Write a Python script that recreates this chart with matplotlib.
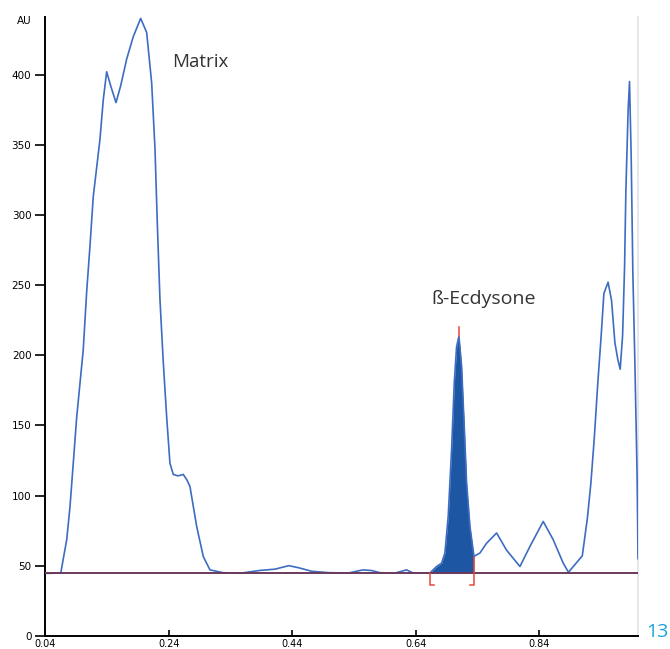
import matplotlib
matplotlib.use("Agg")
import matplotlib.pyplot as plt
import numpy as np

# densitogram trace: Rf position and absorbance (AU)
rf = [0.040, 0.065, 0.0747, 0.080, 0.0853, 0.0909, 0.0962, 0.1015, 0.107, 0.1124,
      0.1177, 0.1286, 0.1339, 0.1394, 0.1459, 0.1545, 0.1621, 0.1718, 0.1825,
      0.1945, 0.2042, 0.2123, 0.2177, 0.2214, 0.2257, 0.2311, 0.2366, 0.2419, 0.2473,
      0.2549, 0.2635, 0.2695, 0.2743, 0.2852, 0.2959, 0.3067, 0.3278, 0.3553, 0.3877,
      0.412, 0.4343, 0.4505, 0.4715, 0.499, 0.5314, 0.5545, 0.569, 0.5819, 0.6062,
      0.6253, 0.6355, 0.655, 0.663, 0.6738, 0.6819, 0.6873, 0.6926, 0.6981, 0.7024,
      0.7062, 0.7100, 0.7143, 0.7186, 0.7224, 0.7278, 0.7343, 0.744, 0.7548, 0.771,
      0.7872, 0.8088, 0.8250, 0.8465, 0.8627, 0.8789, 0.8874, 0.9098, 0.9181, 0.9237,
      0.9292, 0.9349, 0.9404, 0.9448, 0.9516, 0.9572, 0.9626, 0.9673, 0.9712, 0.9751,
      0.9783, 0.9804, 0.9840, 0.9863, 0.9890, 0.9917, 0.9950, 0.9985, 0.9995, 1.0]
au = [44.5, 44.7, 68.5, 92, 123, 156, 180, 204, 245, 278,
      313, 354, 382, 402, 392, 380, 392, 411, 427,
      440, 430, 394, 347, 294.5, 240, 195, 156, 123, 115,
      114, 115, 111, 106.5, 78, 56.5, 47, 45, 44.6, 46.6,
      47.5, 50, 48.5, 46, 45, 44.8, 47, 46.5, 45, 44.7,
      47, 44.8, 44.8, 44.8, 49.4, 51.8, 59, 85, 132.7, 180,
      206, 213.5, 192, 149, 109, 78, 56.6, 59, 66, 73.3,
      61, 49.4, 63.7, 81.5, 68.5, 51.8, 45.3, 57, 84, 108.7,
      140.7, 180, 214, 244, 252, 239, 209, 197, 190, 214,
      263, 317, 374, 395, 342, 258.6, 194.7, 116, 79, 55]

baseline = 44.5
peak_start, peak_end = 0.663, 0.7343   # integration window of the beta-ecdysone peak
peak_rf, peak_top = 0.7100, 220

x_ticks = [0.04, 0.24, 0.44, 0.64, 0.84]
x_labels = ["0.04", "0.24", "0.44", "0.64", "0.84"]
y_ticks = [0, 50, 100, 150, 200, 250, 300, 350, 400]

line_col = "#3d6cc2"
fill_col = "#1d56a3"
red = "#e8473a"

fig = plt.figure(figsize=(6.70, 6.49), dpi=100)
ax = fig.add_axes([0.0676, 0.0203, 0.8846, 0.9535])

x = np.array(rf)
y = np.array(au)

# filled peak
m = (x >= peak_start) & (x <= peak_end)
ax.fill_between(x[m], baseline, y[m], color=fill_col, lw=0, zorder=2)

ax.plot(x, y, color=line_col, lw=1.2, zorder=3)
ax.axhline(baseline, color="#6b3a5c", lw=1.4, zorder=4)

# red integration markers
dx = 0.0065
ax.plot([peak_start, peak_start, peak_start + dx], [baseline, 36.4, 36.4], color=red, lw=1.1, zorder=5)
ax.plot([peak_end, peak_end, peak_end - dx], [baseline + 12, 36.4, 36.4], color=red, lw=1.1, zorder=5)
ax.plot([peak_rf, peak_rf], [213.5, peak_top], color=red, lw=1.1, zorder=5)

ax.set_xlim(0.04, 1.0)
ax.set_ylim(0, 441)
ax.set_xticks(x_ticks)
ax.set_xticklabels(x_labels)
ax.set_yticks(y_ticks)

ax.spines["top"].set_visible(False)
ax.spines["right"].set_color("#e2e2e8")
ax.spines["right"].set_linewidth(1.2)
ax.spines["left"].set_linewidth(1.4)
ax.spines["bottom"].set_linewidth(1.4)

ax.tick_params(axis="y", direction="out", length=7, width=1.2, pad=3,
               labelsize=7.5, labelfontfamily="DejaVu Sans")
ax.tick_params(axis="x", direction="in", length=4, width=1.2, pad=2,
               labelsize=7, labelfontfamily="DejaVu Sans")

ax.text(-0.024, 438, "AU", transform=ax.get_yaxis_transform(), ha="right", va="center",
        fontsize=7.5, family="DejaVu Sans")

ax.text(0.245, 409, "Matrix", fontsize=13.5, family="Open Sans", color="#333333",
        ha="left", va="center")
ax.text(0.666, 240, "ß-Ecdysone", fontsize=14, family="Open Sans", color="#333333",
        ha="left", va="center")

fig.text(0.997, 0.026, "13", fontsize=14, family="Open Sans", color="#1aa3dc",
         ha="right", va="center")

fig.savefig("out.png", dpi=100)
